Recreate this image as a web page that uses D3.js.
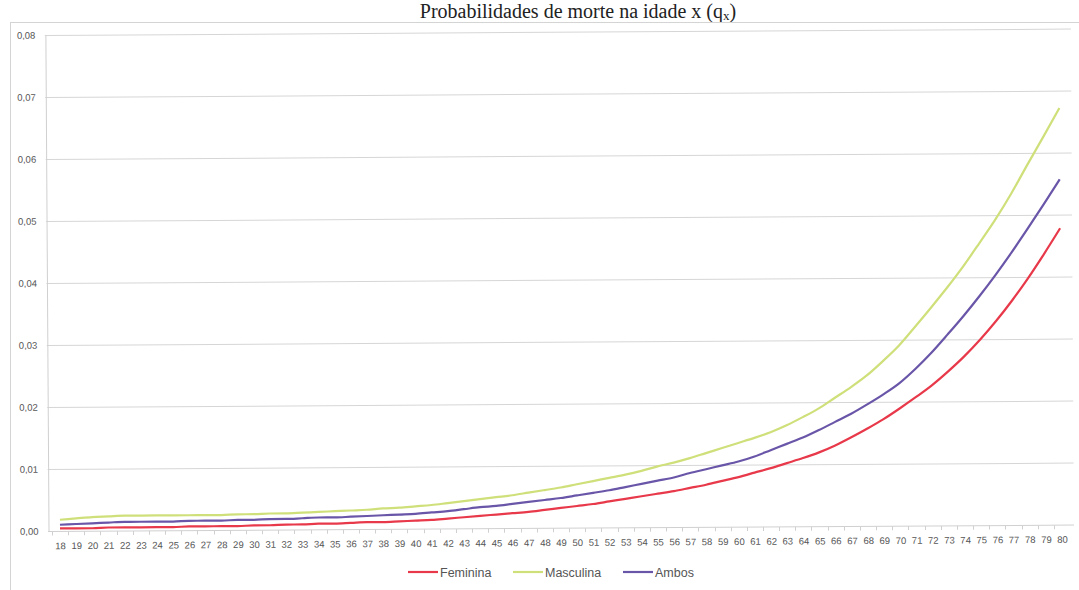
<!DOCTYPE html>
<html>
<head>
<meta charset="utf-8">
<script src="https://cdn.jsdelivr.net/npm/d3@7"></script>
<style>
  body { margin: 0; background: #fff; }
  svg { display: block; }
</style>
</head>
<body>
<svg id="chart" width="1079" height="590"></svg>
<script>
// Ages (x categories)
const ages = [18,19,20,21,22,23,24,25,26,27,28,29,30,31,32,33,34,35,36,37,38,39,40,
  41,42,43,44,45,46,47,48,49,50,51,52,53,54,55,56,57,58,59,60,61,62,63,64,65,66,67,68,
  69,70,71,72,73,74,75,76,77,78,79,80];

// Probability of death at age x (q_x)
const feminina = [0.0004,0.0004,0.0004,0.0005,0.0005,0.0005,0.0005,0.0005,0.0006,0.0006,
  0.0006,0.0006,0.0007,0.0007,0.0008,0.0008,0.0009,0.0009,0.0010,0.0011,0.0011,0.0012,
  0.0013,0.0014,0.0016,0.0018,0.0020,0.0022,0.0024,0.0026,0.0029,0.0032,0.0035,0.0038,
  0.0042,0.0046,0.0050,0.0054,0.0058,0.0063,0.0068,0.0074,0.0080,0.0087,0.0094,0.0102,
  0.0110,0.0119,0.0130,0.0143,0.0157,0.0172,0.0189,0.0207,0.0226,0.0248,0.0272,0.0299,
  0.0329,0.0362,0.0398,0.0437,0.0478];

const masculina = [0.0018,0.0020,0.0022,0.0023,0.0024,0.0024,0.0024,0.0024,0.0024,0.0024,
  0.0024,0.0025,0.0025,0.0026,0.0026,0.0027,0.0028,0.0029,0.0030,0.0031,0.0033,0.0034,
  0.0036,0.0038,0.0041,0.0044,0.0047,0.0050,0.0053,0.0057,0.0061,0.0065,0.0070,0.0075,
  0.0080,0.0085,0.0091,0.0098,0.0104,0.0111,0.0119,0.0127,0.0135,0.0143,0.0152,0.0163,
  0.0176,0.0190,0.0207,0.0224,0.0243,0.0266,0.0291,0.0321,0.0352,0.0384,0.0418,0.0455,
  0.0493,0.0535,0.0581,0.0626,0.0672];

const ambos = [0.0010,0.0011,0.0012,0.0013,0.0014,0.0014,0.0014,0.0014,0.0015,0.0015,
  0.0015,0.0016,0.0016,0.0017,0.0017,0.0018,0.0019,0.0019,0.0020,0.0021,0.0022,0.0023,
  0.0024,0.0026,0.0028,0.0031,0.0034,0.0036,0.0039,0.0042,0.0045,0.0048,0.0052,0.0056,
  0.0060,0.0065,0.0070,0.0075,0.0080,0.0087,0.0093,0.0099,0.0105,0.0113,0.0123,0.0133,
  0.0143,0.0155,0.0168,0.0181,0.0196,0.0212,0.0230,0.0253,0.0279,0.0308,0.0338,0.0370,
  0.0404,0.0440,0.0478,0.0517,0.0557];

const yTicks = [0, 0.01, 0.02, 0.03, 0.04, 0.05, 0.06, 0.07, 0.08];

const seriesNames = ["Feminina", "Masculina", "Ambos"];
const seriesColors = ["#e8394a", "#cfe07a", "#6a56a8"];
const seriesValues = [feminina, masculina, ambos];

const svg = d3.select("#chart");

// Chart title
const title = svg.append("text")
  .attr("x", 578).attr("y", 18)
  .attr("text-anchor", "middle")
  .attr("font-family", "'Liberation Serif', 'Times New Roman', serif")
  .attr("font-size", 20)
  .attr("fill", "#222");
title.append("tspan").text("Probabilidades de morte na idade x (q");
title.append("tspan").attr("font-size", 13).attr("dy", 2).text("x");
title.append("tspan").attr("dy", -2).text(")");

// Chart area border
svg.append("rect")
  .attr("x", 10.5).attr("y", 22.5)
  .attr("width", 1100).attr("height", 600)
  .attr("fill", "none").attr("stroke", "#d4d4d4");

// Plot, slightly tilted
const plot = svg.append("g")
  .attr("transform", "rotate(-0.36 48 531)");

const plotLeft = 48, plotRight = 1074, plotTop = 35, plotBottom = 531;

const x = d3.scalePoint().domain(ages).range([60, 1062]);
const step = x.step();
const y = d3.scaleLinear().domain([0, 0.08]).range([plotBottom, plotTop]);

// Horizontal gridlines
plot.append("g")
  .selectAll("line")
  .data(yTicks.filter(d => d > 0))
  .join("line")
  .attr("x1", plotLeft).attr("x2", plotRight)
  .attr("y1", d => Math.round(y(d)) + 0.5)
  .attr("y2", d => Math.round(y(d)) + 0.5)
  .attr("stroke", "#d6d6d6").attr("stroke-width", 1);

// Y axis
const fmt = d => d3.format(".2f")(d).replace(".", ",");
const yAxis = plot.append("g")
  .attr("transform", `translate(${plotLeft + 0.5},0)`)
  .call(d3.axisLeft(y).tickValues(yTicks).tickFormat(fmt).tickSize(0).tickPadding(10));
yAxis.select(".domain").attr("stroke", "#d0d0d0");
yAxis.selectAll("text")
  .attr("font-family", "'Liberation Sans', Arial, sans-serif")
  .attr("font-size", 9.5).attr("fill", "#555");

// X axis
const xAxis = plot.append("g")
  .attr("transform", `translate(0,${Math.round(plotBottom) + 0.5})`)
  .call(d3.axisBottom(x).tickSize(0).tickPadding(11));
xAxis.select(".domain").attr("d", `M${plotLeft},0H${plotRight}`).attr("stroke", "#d0d0d0");
xAxis.selectAll("text")
  .attr("font-family", "'Liberation Sans', Arial, sans-serif")
  .attr("font-size", 9.5).attr("fill", "#555");
// tick marks between categories
plot.append("g")
  .attr("transform", `translate(0,${Math.round(plotBottom) + 0.5})`)
  .selectAll("line")
  .data(ages)
  .join("line")
  .attr("x1", d => Math.round(x(d) - step / 2) + 0.5)
  .attr("x2", d => Math.round(x(d) - step / 2) + 0.5)
  .attr("y1", 0).attr("y2", 4)
  .attr("stroke", "#d0d0d0");

// Series lines
const line = d3.line()
  .x((d, i) => x(ages[i]))
  .y(d => y(d))
  .curve(d3.curveMonotoneX);

seriesValues.forEach((vals, k) => {
  plot.append("path")
    .datum(vals)
    .attr("d", line)
    .attr("fill", "none")
    .attr("stroke", seriesColors[k])
    .attr("stroke-width", 2.2)
    .attr("stroke-linejoin", "round");
});

// Legend
const legendX = [408, 513, 623];
const legend = svg.append("g").attr("transform", "translate(0,572)");
seriesNames.forEach((name, k) => {
  const g = legend.append("g").attr("transform", `translate(${legendX[k]},0)`);
  g.append("line").attr("x1", 0).attr("x2", 30).attr("y1", 0).attr("y2", 0)
    .attr("stroke", seriesColors[k]).attr("stroke-width", 2.2);
  g.append("text").attr("x", 32).attr("y", 4.5)
    .attr("font-family", "'Liberation Sans', Arial, sans-serif")
    .attr("font-size", 12.5).attr("fill", "#555")
    .text(name);
});
</script>
</body>
</html>
